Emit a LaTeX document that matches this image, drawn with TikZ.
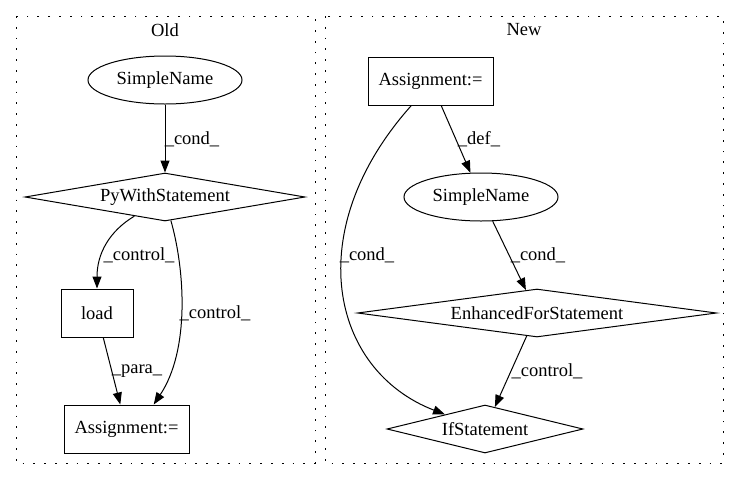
\documentclass[tikz,border=0pt]{standalone}
\usepackage{fontspec}
\setmainfont{Liberation Serif}
\usepackage{tikz}
\usetikzlibrary{arrows.meta,shapes.geometric,calc}

\begin{document}
\begin{tikzpicture}[x=1pt, y=-1pt,
  every node/.style={font=\fontsize{18.5}{22}\selectfont},
  cluster/.style={draw, line width=1pt, dash pattern=on 1.8pt off 9pt},
  elnode/.style={draw, line width=1pt, ellipse, minimum width=154pt, minimum height=48pt, inner sep=0pt},
  boxnode/.style={draw, line width=1pt, rectangle, minimum height=48pt, inner sep=0pt},
  cond/.style={draw, line width=1pt, diamond, aspect=6, minimum height=48pt, inner sep=0pt},
  flow/.style={-{Triangle[length=12pt,width=9pt]}, line width=1pt}
]

\useasboundingbox (0,0) rectangle (739,480);

% Clusters
\draw[cluster] (16,16) rectangle (315,463);
\draw[cluster] (325,16) rectangle (723,463);
\node (titleold) at (165,30) {Old};
\node (titlenew) at (524,30) {New};

% Nodes (old)
\node[elnode] (snold) at (165,80) {SimpleName};
\node[cond, minimum width=280pt] (pywith) at (165,197) {PyWithStatement};
\node[boxnode, minimum width=72pt] (load) at (97,313) {load};
\node[boxnode, minimum width=125pt] (asgold) at (126.5,429) {Assignment:=};

% Nodes (new)
\node[boxnode, minimum width=125pt] (asgnew) at (430.5,81) {Assignment:=};
\node[elnode] (snnew) at (481,197) {SimpleName};
\node[cond, minimum width=359pt] (efor) at (537,313) {EnhancedForStatement};
\node[cond, minimum width=196pt] (ifst) at (485,429) {IfStatement};

% Arrows
\draw[flow] (snold) -- (pywith);
\draw[flow] (pywith.212) .. controls +(-25,15) and +(0,-35) .. (load.north);
\draw[flow] (pywith.-76) .. controls (185,270) and (190,350) .. (asgold.42);
\draw[flow] (load) -- (asgold);

\draw[flow] (asgnew) -- (snnew);
\draw[flow] (asgnew.-128) .. controls (300,230) and (330,370) .. (ifst.160);
\draw[flow] (snnew) -- (efor);
\draw[flow] (efor) -- (ifst);

% Labels
\node (lcondold) at (192,139) {\_cond\_};
\node (lctrla) at (139,255) {\_control\_};
\node (lctrlb) at (215,313) {\_control\_};
\node (lpara) at (137,371) {\_para\_};
\node (ldef) at (479,139) {\_def\_};
\node (lconda) at (367,255) {\_cond\_};
\node (lcondb) at (538,255) {\_cond\_};
\node (lctrlc) at (547,371) {\_control\_};

\end{tikzpicture}
\end{document}
